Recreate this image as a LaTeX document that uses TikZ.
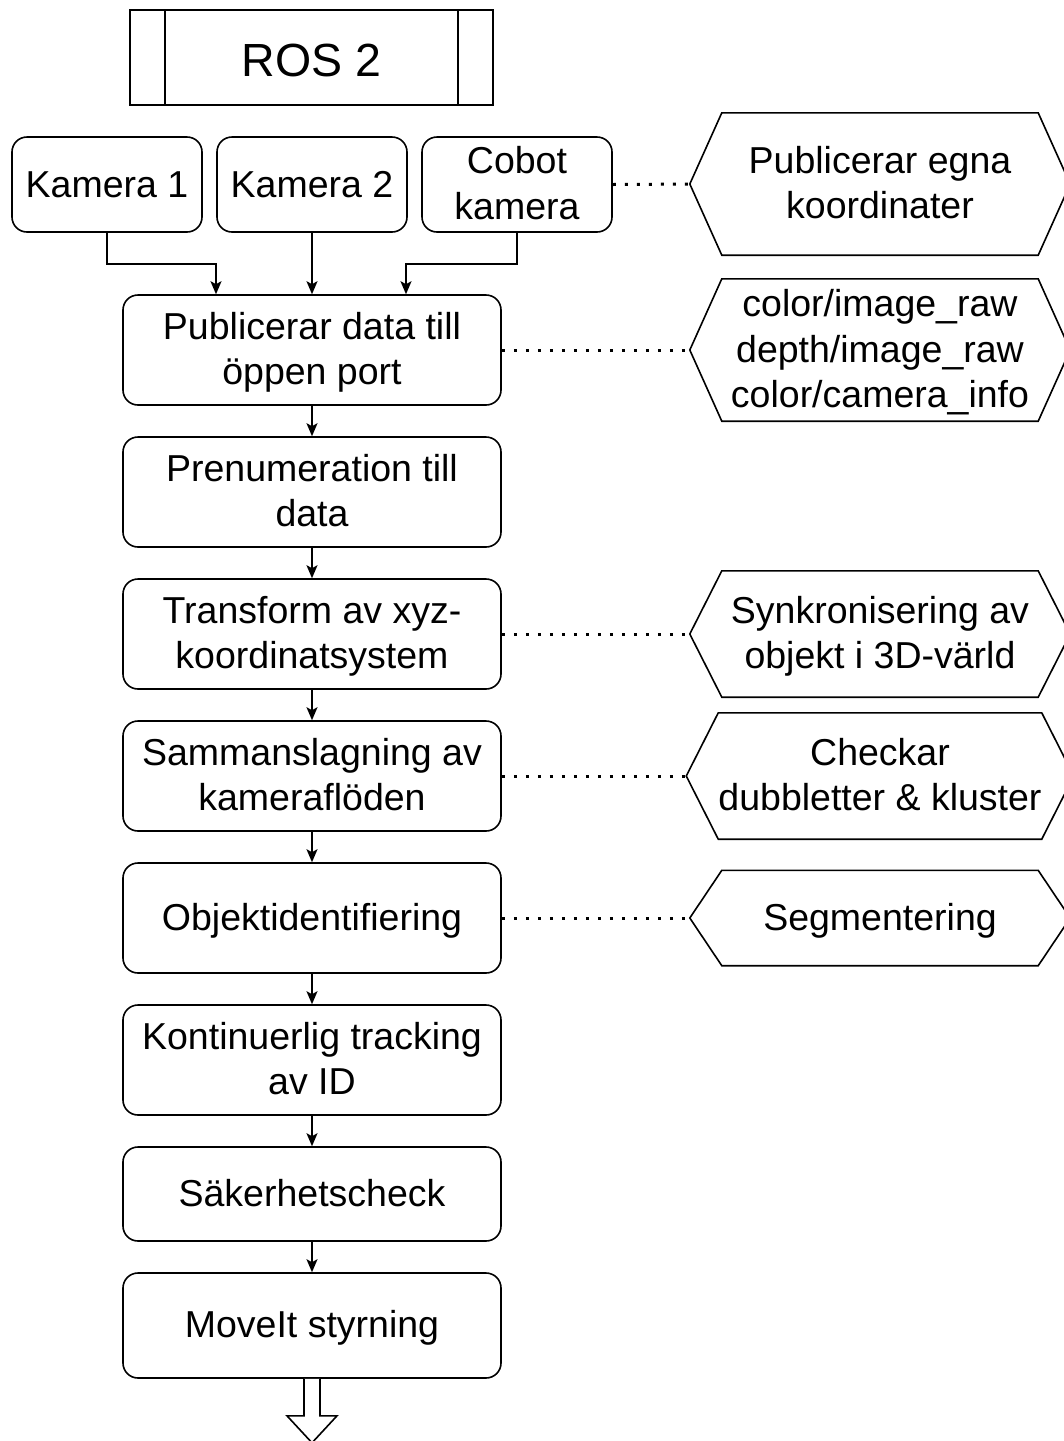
\documentclass[tikz,border=0pt]{standalone}
\usepackage{fontspec}
\setmainfont{Liberation Sans}
\usetikzlibrary{arrows.meta,calc}
\newcommand\lt[1]{\raisebox{-3pt}[\height][\depth]{\begin{tabular}{@{}c@{}}#1\end{tabular}}}
\begin{document}
\begin{tikzpicture}[x=1pt,y=-1pt,
  every node/.style={font=\fontsize{37.5}{45.5}\selectfont},
  ln/.style={line width=1.6pt,draw=black},
  box/.style={ln,rounded corners=15pt,minimum width=378pt,minimum height=110pt,inner sep=0pt},
  cam/.style={ln,rounded corners=15pt,minimum width=190pt,minimum height=95pt,inner sep=0pt},
  hexbox/.style={minimum width=316pt,inner sep=0pt},
  arr/.style={ln,-{Stealth[length=13pt,width=11pt,inset=3pt]}},
  dots/.style={line width=3pt,dash pattern=on 3pt off 9pt}
]
\useasboundingbox (0,0) rectangle (1064,1441);

% ROS 2
\node[ln,minimum width=363pt,minimum height=95pt,inner sep=0pt,font=\fontsize{46.5}{55}\selectfont] (ros) at (311.5,57.5) {\raisebox{-3pt}[\height][\depth]{ROS 2}};
\draw[ln] ([xshift=36pt]ros.north west) -- ([xshift=36pt]ros.south west);
\draw[ln] ([xshift=-36pt]ros.north east) -- ([xshift=-36pt]ros.south east);

% cameras
\node[cam] (k1) at (107,184.5) {Kamera 1};
\node[cam] (k2) at (312,184.5) {Kamera 2};
\node[cam] (k3) at (517,184.5) {\lt{Cobot\\kamera}};

% main flow
\node[box] (pub) at (312,350) {\lt{Publicerar data till\\öppen port}};
\node[box] (pre) at (312,492) {\lt{Prenumeration till\\data}};
\node[box] (tra) at (312,634) {\lt{Transform av xyz-\\koordinatsystem}};
\node[box] (sam) at (312,776) {\lt{Sammanslagning av\\kameraflöden}};
\node[box] (obj) at (312,918) {\lt{Objektidentifiering}};
\node[box] (kon) at (312,1060) {\lt{Kontinuerlig tracking\\av ID}};
\node[box,minimum height=94pt] (sak) at (312,1194) {\lt{Säkerhetscheck}};
\node[box,minimum height=105pt] (mov) at (312,1325.5) {\lt{MoveIt styrning}};

% hexagons
\node[hexbox,minimum height=142pt] (h1) at (880,184) {\lt{Publicerar egna\\koordinater}};
\node[hexbox,minimum height=142pt] (h2) at (880,350) {\lt{color/image\_raw\\depth/image\_raw\\color/camera\_info}};
\node[hexbox,minimum height=126pt] (h3) at (880,634) {\lt{Synkronisering av\\objekt i 3D-värld}};
\node[hexbox,minimum height=126pt] (h4) at (880,776) {\lt{Checkar\\dubbletter \& kluster}};
\node[hexbox,minimum height=95pt] (h5) at (880,918) {\lt{Segmentering}};
\foreach \h in {h1,h2,h3,h4,h5}{
  \draw[ln,line join=miter] (\h.north west) -- (\h.north east) -- ([xshift=32pt]\h.east)
    -- (\h.south east) -- (\h.south west) -- ([xshift=-32pt]\h.west) -- cycle;
  \coordinate (\h t) at ([xshift=-32pt]\h.west);
}

% camera connectors
\draw[arr] (k1.south) -- ++(0,31) -| ([xshift=-96pt]pub.north);
\draw[arr] (k2.south) -- (pub.north);
\draw[arr] (k3.south) -- ++(0,31) -| ([xshift=94pt]pub.north);

% flow arrows
\draw[arr] (pub) -- (pre);
\draw[arr] (pre) -- (tra);
\draw[arr] (tra) -- (sam);
\draw[arr] (sam) -- (obj);
\draw[arr] (obj) -- (kon);
\draw[arr] (kon) -- (sak);
\draw[arr] (sak) -- (mov);

% dotted links
\draw[dots] (k3.east) -- (h1t);
\draw[dots] (pub.east) -- (h2t);
\draw[dots] (tra.east) -- (h3t);
\draw[dots] (sam.east) -- (h4t);
\draw[dots] (obj.east) -- (h5t);

% output block arrow
\coordinate (ms) at (mov.south);
\draw[ln,line join=miter,fill=white] ($(ms)+(-8,0)$) -- ($(ms)+(-8,37)$) -- ($(ms)+(-25,37)$)
  -- ($(ms)+(0,64)$) -- ($(ms)+(25,37)$) -- ($(ms)+(8,37)$) -- ($(ms)+(8,0)$);
\end{tikzpicture}
\end{document}
